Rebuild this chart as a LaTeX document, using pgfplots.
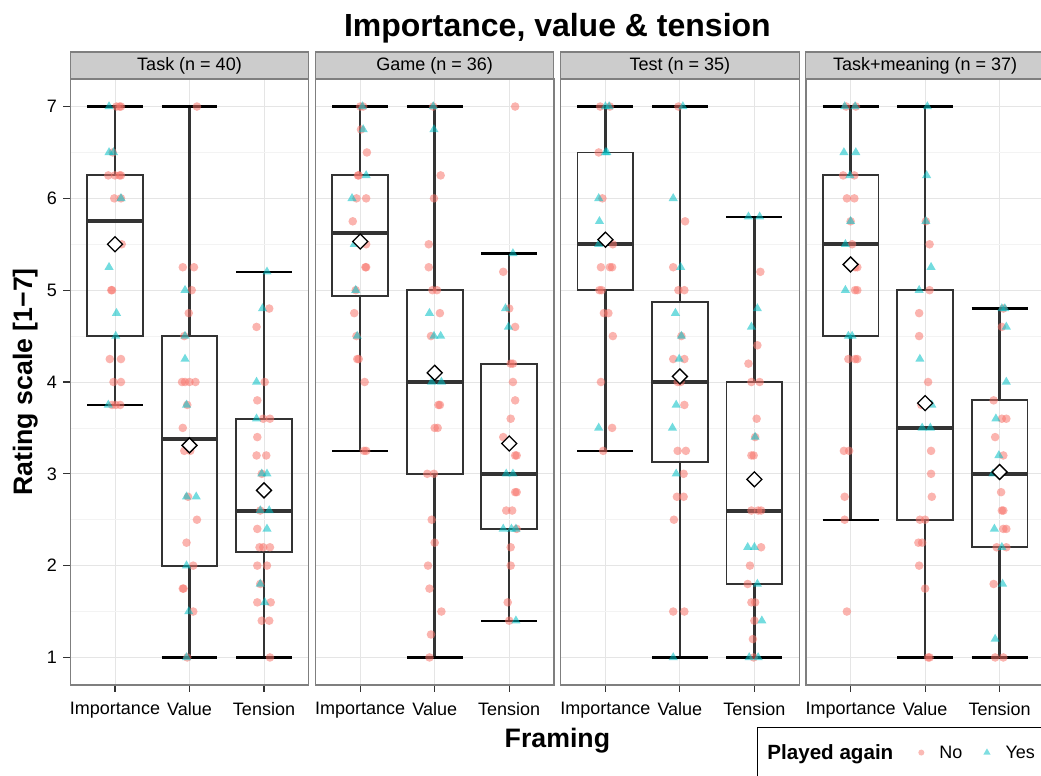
\documentclass[border=0pt]{standalone}
\usepackage{fontspec}
\setmainfont{Liberation Sans}
\usepackage{pgfplots}
\usepackage{pgfplotstable}
\pgfplotsset{compat=1.18}
\usepgfplotslibrary{statistics}

\definecolor{noCol}{HTML}{F8766D}
\definecolor{yesCol}{HTML}{00BFC4}
\definecolor{grey90}{HTML}{E5E5E5}
\definecolor{grey96}{HTML}{F3F3F3}
\definecolor{grey50}{HTML}{7F7F7F}
\definecolor{grey80}{HTML}{CCCCCC}
\definecolor{grey20}{HTML}{333333}

% ---------- jittered ratings (x = category + jitter, y = rating) ----------
\pgfplotstableread{
x y
1.02 7
1.06 7
1.08 7
0.97 6.5
0.91 6.25
1.00 6.25
1.06 6.25
1.08 6.25
0.99 6
1.08 6
1.09 5.5
0.95 5
0.96 5
0.93 4.25
1.08 4.25
0.98 4
1.08 4
0.96 3.75
1.01 3.75
1.07 3.75
2.10 7
1.91 5.25
2.06 5.25
2.03 5
1.99 4.75
1.93 4.5
1.90 4
1.94 4
2.00 4
2.08 4
1.97 3.75
1.91 3.5
1.93 3.25
2.01 3.25
1.98 2.75
2.10 2.5
1.96 2.25
2.05 2
1.91 1.75
1.92 1.75
2.05 1.5
1.97 1
3.07 4.8
2.90 4.6
3.01 4
2.91 3.8
2.99 3.6
3.08 3.6
2.91 3.4
2.90 3.2
3.03 3.2
2.97 3
2.95 2.6
2.91 2.4
2.94 2.2
2.99 2.2
3.08 2.2
2.91 2
3.04 2
2.95 1.8
2.91 1.6
3.09 1.6
2.97 1.4
3.07 1.4
3.08 1
}\taskNo
\pgfplotstableread{
x y
0.92 7
0.92 6.5
0.98 6.5
1.08 6
0.92 5.25
1.02 4.75
1.01 4.5
0.91 3.75
1.94 5
1.94 4.5
1.94 4.25
1.96 3.75
1.96 2.75
2.09 2.75
1.96 2
1.99 1.5
1.96 1
3.04 5.2
2.98 4.8
2.90 4
2.90 3.6
2.97 3
3.04 3
2.95 2.6
3.07 2.6
3.04 2.4
2.95 1.8
3.01 1.6
}\taskYes
\pgfplotstableread{
x y
1.00 7
1.04 7
1.01 6.75
1.09 6.5
0.97 6.25
0.98 6.25
0.95 6
1.08 6
0.90 5.75
1.08 5.5
1.07 5.25
1.08 5.25
0.94 5
0.92 4.75
0.95 4.5
0.96 4.25
0.98 4.25
1.06 4
1.05 3.25
1.08 3.25
1.98 7
2.08 6.25
1.99 6
1.92 5.5
1.92 5.25
1.97 5
2.03 5
2.07 4.75
1.95 4.5
2.05 3.75
2.07 3.75
2.00 3.5
2.04 3.5
1.90 3
1.99 3
1.96 2.5
2.00 2.25
1.91 2
1.93 1.75
2.09 1.5
1.95 1.25
1.93 1
3.08 7
2.92 5.2
3.00 4.8
3.08 4.6
3.02 4.2
3.05 4.2
3.05 4
3.08 3.8
3.02 3.6
2.92 3.4
3.08 3.2
3.10 3.2
3.08 2.8
3.10 2.8
2.96 2.6
3.04 2.6
3.10 2.4
3.02 2.2
3.02 2
2.98 1.6
3.00 1.4
}\gameNo
\pgfplotstableread{
x y
1.03 7
1.04 6.75
1.08 6.25
0.89 6
0.92 5.5
0.94 5
0.96 4.5
1.98 7
1.99 6.75
1.93 4.75
1.99 4.5
2.08 4.5
1.96 4
2.09 4
3.05 5.4
2.95 4.8
2.99 4.6
2.96 3
3.05 3
2.92 2.4
3.03 2.4
3.09 2.4
3.09 1.4
}\gameYes
\pgfplotstableread{
x y
0.93 7
1.06 7
0.91 6.5
0.96 6
1.10 5.5
0.94 5.25
1.06 5.25
1.09 5.25
0.92 5
0.95 5
0.98 4.75
1.04 4.75
1.10 4.5
0.94 4
1.09 3.5
0.97 3.25
1.98 7
2.07 5.75
1.91 5.25
1.98 5
2.06 5
2.02 4.5
1.91 4.25
2.06 4.25
1.97 4
2.01 4
2.06 3.75
1.97 3.25
2.08 3.25
2.05 3
1.96 2.75
2.05 2.75
1.92 2.5
1.91 1.5
2.06 1.5
3.08 5.2
3.04 4.4
2.92 4.2
2.96 4
3.07 4
3.03 3.6
3.01 3.4
2.96 3.2
2.99 3.2
2.96 2.6
3.05 2.6
3.09 2.6
3.09 2.2
2.94 2
2.91 1.8
2.96 1.6
3.01 1.6
3.00 1.4
2.98 1.2
2.99 1
}\testNo
\pgfplotstableread{
x y
1.00 7
1.05 7
1.00 6.5
1.02 6.5
0.91 6
0.92 5.75
0.91 5.5
0.91 3.5
2.04 7
1.91 6
2.01 5.25
1.94 4.75
2.02 4.5
1.99 4.25
1.95 3.75
1.90 3.5
1.95 3
1.91 1
2.92 5.8
3.07 5.8
3.04 4.8
2.96 4.6
3.01 3.4
2.91 2.2
3.00 2.2
3.04 1.8
3.10 1.4
2.93 1
3.05 1
}\testYes
\pgfplotstableread{
x y
0.94 7
1.07 7
0.90 6.25
1.05 6.25
0.95 6
1.05 6
1.00 5.75
1.02 5.5
1.06 5.25
1.09 5.25
1.06 5
1.09 5
0.97 4.25
1.06 4.25
1.09 4.25
0.91 3.25
0.98 3.25
0.92 2.75
0.92 2.5
0.95 1.5
2.01 5.75
2.06 5.5
2.06 5
1.92 4.75
1.92 4.5
2.04 4
1.95 3.75
2.08 3.25
2.08 3
2.09 2.75
1.93 2.5
2.00 2.5
1.91 2.25
1.96 2.25
1.92 2
2.00 1.75
2.04 1
2.06 1
3.05 4.8
3.03 4.6
2.92 3.8
3.03 3.6
3.09 3.6
2.94 3.4
3.05 3.2
3.02 2.8
3.03 2.6
3.05 2.6
3.05 2.4
3.09 2.4
2.96 2.2
3.09 2.2
2.92 1.8
2.94 1
3.05 1
}\meanNo
\pgfplotstableread{
x y
0.92 7
1.06 7
0.91 6.5
1.07 6.5
0.99 6.25
1.00 5.75
0.93 5.5
0.93 5
0.97 4.5
1.02 4.5
2.03 7
2.02 6.25
2.01 5.75
2.08 5.25
1.92 5
1.93 4.25
2.09 3.75
1.96 3.5
2.07 3.5
3.03 4.8
3.07 4.8
3.09 4.6
3.09 4
2.95 3.6
2.99 3.2
2.91 3
2.93 2.4
3.03 2.2
3.04 1.8
2.94 1.2
}\meanYes

% ---------- styles ----------
\tikzset{
  strip/.style={draw=grey50, fill=grey80, line width=1.1pt, minimum width=238.4pt,
    minimum height=27pt, inner sep=0pt, outer sep=0pt, anchor=south,
    font=\fontsize{18}{18}\selectfont},
}
\pgfplotsset{
  boxplot/draw/lower whisker/.code={%
    \draw[grey20, line width=2.5pt]
      (boxplot cs:\pgfplotsboxplotvalue{lower whisker}) --
      (boxplot cs:\pgfplotsboxplotvalue{lower quartile});
    \draw[black, line width=2.1pt]
      (boxplot whisker cs:\pgfplotsboxplotvalue{lower whisker},0) --
      (boxplot whisker cs:\pgfplotsboxplotvalue{lower whisker},1);
  },
  boxplot/draw/upper whisker/.code={%
    \draw[grey20, line width=2.5pt]
      (boxplot cs:\pgfplotsboxplotvalue{upper whisker}) --
      (boxplot cs:\pgfplotsboxplotvalue{upper quartile});
    \draw[black, line width=2.1pt]
      (boxplot whisker cs:\pgfplotsboxplotvalue{upper whisker},0) --
      (boxplot whisker cs:\pgfplotsboxplotvalue{upper whisker},1);
  },
  boxsty/.style={draw=grey20, line width=1.9pt, fill=none, mark=none, solid,
    forget plot, boxplot/draw direction=y,
    boxplot/box extend=0.75, boxplot/whisker extend=0.75,
    boxplot/every median/.style={line width=4pt}},
  nosty/.style={only marks, mark=*, mark size=4.3pt, forget plot,
    mark options={fill=noCol, draw opacity=0, fill opacity=0.55}},
  yessty/.style={only marks, mark=triangle*, mark size=5.3pt, forget plot,
    mark options={fill=yesCol, draw opacity=0, fill opacity=0.55}},
  meansty/.style={only marks, mark=square*, mark size=5.3pt, forget plot,
    mark options={rotate=45, fill=white, draw=black, line width=1.3pt, solid}},
  facet/.style={
    scale only axis, width=238.4pt, height=606pt, anchor=south west,
    xmin=0.4, xmax=3.6, ymin=0.7, ymax=7.3,
    xtick={1,2,3}, xticklabels={Importance,Value,Tension},
    ytick={1,2,...,7}, minor ytick={1.5,2.5,...,6.5},
    grid=both,
    major grid style={grey90, line width=0.9pt},
    minor grid style={grey96, line width=0.6pt},
    axis line style={grey50, line width=1.2pt},
    tick align=outside, major tick length=7pt, minor tick length=0pt,
    xtick pos=bottom, ytick pos=left,
    tick style={grey20, line width=1.1pt},
    tick label style={font=\fontsize{18}{18}\selectfont, black},
    xticklabel style={yshift=-7pt},
    yticklabel style={xshift=-3pt},
    /pgf/number format/assume math mode=true,
    clip=false,
  },
  noyticks/.style={yticklabels={}, ytick style={draw=none}},
}
\newcommand{\bx}[6]{%
  \addplot[boxsty, boxplot prepared={draw position=#1, lower whisker=#2,
    lower quartile=#3, median=#4, upper quartile=#5, upper whisker=#6}]
    coordinates {};}

\begin{document}
\begin{tikzpicture}[x=1pt,y=1pt]

% ---- Task ----
\begin{axis}[facet, at={(70.3pt,91pt)}]
  \bx{1}{3.75}{4.5}{5.75}{6.25}{7}
  \bx{2}{1}{2}{3.375}{4.5}{7}
  \bx{3}{1}{2.15}{2.6}{3.6}{5.2}
  \addplot[nosty] table[x=x,y=y] {\taskNo};
  \addplot[yessty] table[x=x,y=y] {\taskYes};
  \addplot[meansty] coordinates {(1,5.5) (2,3.31) (3,2.82)};
  \node[strip] at (rel axis cs:0.5,1) {Task (n = 40)};
\end{axis}

% ---- Game ----
\begin{axis}[facet, noyticks, at={(315.5pt,91pt)}]
  \bx{1}{3.25}{4.94}{5.625}{6.25}{7}
  \bx{2}{1}{3}{4}{5}{7}
  \bx{3}{1.4}{2.4}{3}{4.2}{5.4}
  \addplot[nosty] table[x=x,y=y] {\gameNo};
  \addplot[yessty] table[x=x,y=y] {\gameYes};
  \addplot[meansty] coordinates {(1,5.53) (2,4.1) (3,3.33)};
  \node[strip] at (rel axis cs:0.5,1) {Game (n = 36)};
\end{axis}

% ---- Test ----
\begin{axis}[facet, noyticks, at={(560.7pt,91pt)}]
  \bx{1}{3.25}{5}{5.5}{6.5}{7}
  \bx{2}{1}{3.125}{4}{4.875}{7}
  \bx{3}{1}{1.8}{2.6}{4}{5.8}
  \addplot[nosty] table[x=x,y=y] {\testNo};
  \addplot[yessty] table[x=x,y=y] {\testYes};
  \addplot[meansty] coordinates {(1,5.55) (2,4.06) (3,2.94)};
  \node[strip] at (rel axis cs:0.5,1) {Test (n = 35)};
\end{axis}

% ---- Task+meaning ----
\begin{axis}[facet, noyticks, at={(805.9pt,91pt)},
  legend style={at={(-0.205,-0.0693)}, anchor=north west, draw=black,
    line width=0.7pt, fill=white, legend columns=3,
    font=\fontsize{18}{18}\selectfont, inner xsep=8pt, inner ysep=15pt,
    /tikz/every even column/.append style={column sep=16pt}},
  legend cell align=left]
  \bx{1}{2.5}{4.5}{5.5}{6.25}{7}
  \bx{2}{1}{2.5}{3.5}{5}{7}
  \bx{3}{1}{2.2}{3}{3.8}{4.8}
  \addplot[nosty] table[x=x,y=y] {\meanNo};
  \addplot[yessty] table[x=x,y=y] {\meanYes};
  \addplot[meansty] coordinates {(1,5.28) (2,3.77) (3,3.02)};
  \node[strip] at (rel axis cs:0.5,1) {Task+meaning (n = 37)};
  \addlegendimage{empty legend}
  \addlegendentry{\fontsize{20.6}{20.6}\bfseries\selectfont Played again\kern7pt}
  \addlegendimage{only marks, mark=*, mark size=3pt,
    mark options={fill=noCol, draw opacity=0, fill opacity=0.5}}
  \addlegendentry{\hspace{13pt}No\kern3pt}
  \addlegendimage{only marks, mark=triangle*, mark size=4.2pt,
    mark options={fill=yesCol, draw opacity=0, fill opacity=0.5}}
  \addlegendentry{\hspace{13pt}Yes\kern24pt}
\end{axis}

% ---- titles ----
\node[anchor=base, font=\fontsize{32}{32}\bfseries\selectfont]
  at (557.4pt,739pt) {Importance, value \& tension};
\node[anchor=base, font=\fontsize{26.7}{26.7}\bfseries\selectfont]
  at (557.4pt,28pt) {Framing};
\node[anchor=base, rotate=90, font=\fontsize{26.7}{26.7}\bfseries\selectfont]
  at (32pt,394pt) {Rating scale [1−7]};

\pgfresetboundingbox
\useasboundingbox (0pt,0pt) rectangle (1041pt,776pt);
\end{tikzpicture}
\end{document}
